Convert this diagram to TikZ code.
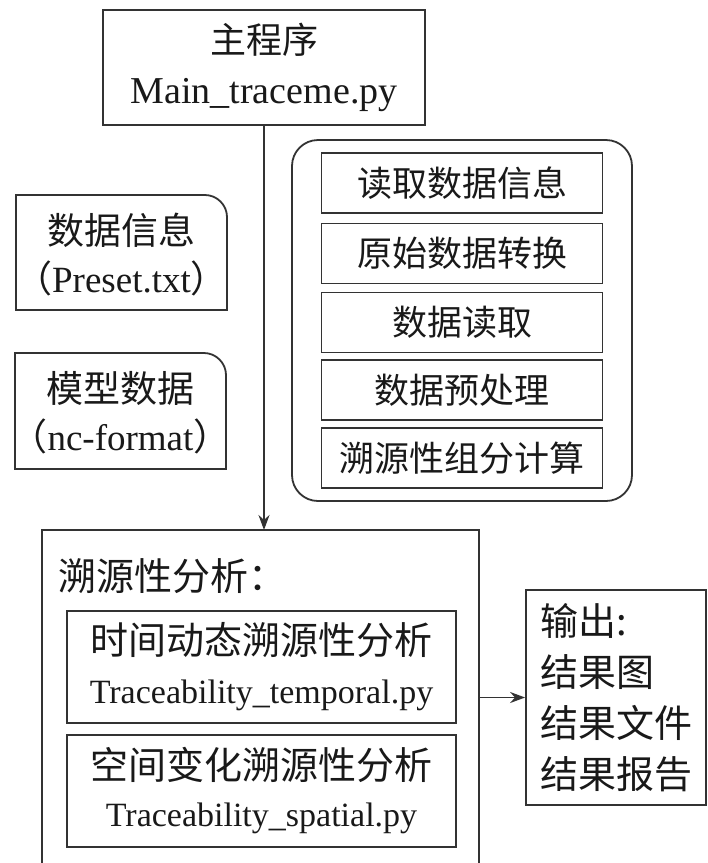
\documentclass[tikz,border=0pt]{standalone}
\usepackage{fontspec}
\setmainfont{Liberation Serif}
\newfontfamily\cjk{Noto Sans CJK SC}
\usetikzlibrary{arrows.meta}
\begin{document}
\begin{tikzpicture}[x=1pt,y=-1pt,
  line/.style={draw=black!80, line width=1.8pt},
  box/.style={line, rectangle, inner sep=0pt, align=center, text=black!90},
  plain/.style={inner sep=0pt, align=center, text=black!90},
  stepbox/.style={box, minimum width=281pt, minimum height=60pt, font=\cjk\fontsize{35}{42}\selectfont},
  arr/.style={line, -{Stealth[length=15pt,width=11pt]}},
]
\useasboundingbox (0,0) rectangle (708,863);
\fill[white] (0,0) rectangle (708,863);

% main program
\node[box, minimum width=322pt, minimum height=115pt, font=\fontsize{36}{50}\selectfont] (main) at (264,67.5)
  {{\cjk 主程序}\\ {\fontsize{38}{50}\selectfont Main\_traceme.py}};

% left data boxes (top-right corner rounded)
\draw[line] (16,310) -- (16,195) -- (205,195) .. controls (217,195) and (227,205) .. (227,217) -- (227,310) -- cycle;
\node[plain, font=\fontsize{37}{48}\selectfont] (info) at (121.5,255)
  {{\cjk 数据信息}\\ {\cjk （}Preset.txt{\cjk ）}};
\draw[line] (15,469) -- (15,353) -- (204,353) .. controls (216,353) and (226,363) .. (226,375) -- (226,469) -- cycle;
\node[plain, font=\fontsize{37}{48}\selectfont] (model) at (120.5,413)
  {{\cjk 模型数据}\\ {\cjk （}nc-format{\cjk ）}};

% rounded group of steps
\node[box, rounded corners=26pt, minimum width=340pt, minimum height=361pt] (grp) at (462,320.5) {};
\node[stepbox] (s1) at (462,183) {读取数据信息};
\node[stepbox] (s2) at (462,253.5) {原始数据转换};
\node[stepbox] (s3) at (462,322.5) {数据读取};
\node[stepbox] (s4) at (462,390) {数据预处理};
\node[stepbox] (s5) at (462,458) {溯源性组分计算};

% traceability analysis big box (open at bottom)
\coordinate (bl) at (42,863);
\coordinate (tl) at (42,530);
\coordinate (tr) at (479,530);
\coordinate (br) at (479,863);
\draw[line] (bl) -- (tl) -- (tr) -- (br);
\coordinate (anatop) at (main.south |- tl);
\node[plain, anchor=west, font=\cjk\fontsize{38}{46}\selectfont] (anal) at (58,576) {溯源性分析：};

\node[box, minimum width=389pt, minimum height=112pt, font=\fontsize{38}{49}\selectfont] (temp) at (261.5,667)
  {{\cjk 时间动态溯源性分析}\\ {\fontsize{34}{49}\selectfont Traceability\_temporal.py}};
\node[box, minimum width=389pt, minimum height=112pt, font=\fontsize{38}{47}\selectfont] (spat) at (261.5,791)
  {{\cjk 空间变化溯源性分析}\\ {\fontsize{34}{47}\selectfont Traceability\_spatial.py}};

% output box
\node[box, minimum width=180pt, minimum height=215pt, text width=152pt, align=left,
      font=\cjk\fontsize{38}{51}\selectfont] (out) at (616,697.5)
  {输出:\\结果图\\结果文件\\结果报告};

\coordinate (anaright) at (tr |- out.west);

% connectors
\draw[arr] (main.south) -- (anatop);
\draw[arr] (anaright) -- (out.west);
\end{tikzpicture}
\end{document}
